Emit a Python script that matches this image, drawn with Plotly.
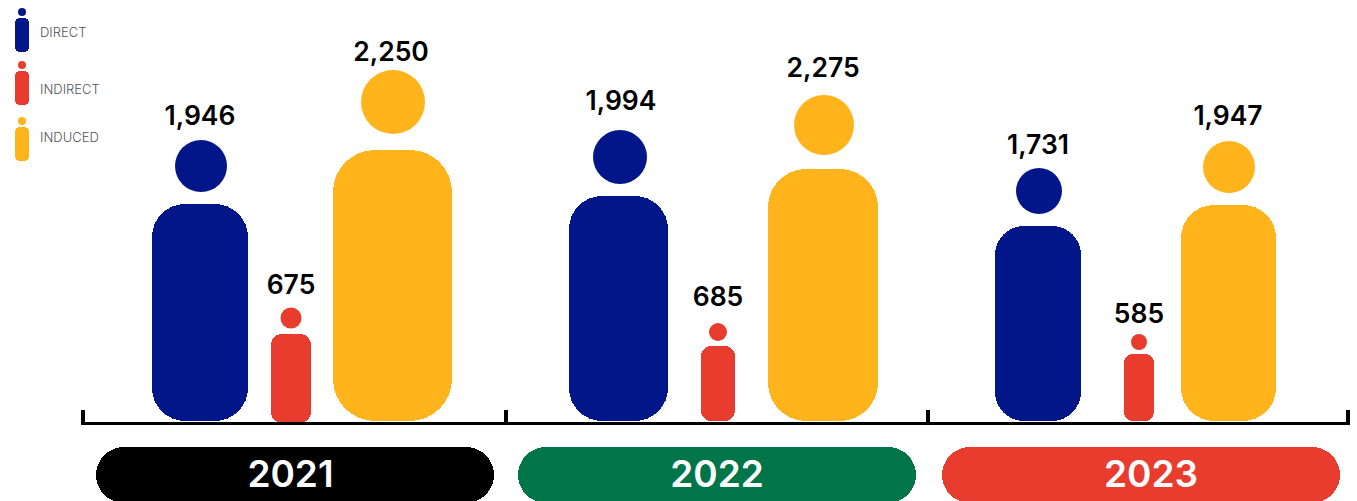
import plotly.graph_objects as go

# ---- data ----
years = ["2021", "2022", "2023"]
series = ["DIRECT", "INDIRECT", "INDUCED"]
direct_values = [1946, 1994, 1731]
indirect_values = [675, 685, 585]
induced_values = [2250, 2275, 1947]
# icon body heights as drawn in the picture (they are not strictly proportional)
direct_body = [217, 225, 195]
indirect_body = [89, 75, 67]
induced_body = [271, 252, 216]

# ---- layout constants ----
W, H = 1357, 501
BASE_PX = 421
COLORS = {"DIRECT": "#001689", "INDIRECT": "#E73C2E", "INDUCED": "#FFB41C"}
YEAR_COLORS = ["#000000", "#00754A", "#E73C2E"]
FONT = "Inter, 'Open Sans', sans-serif"

# per-icon geometry: x centre, width, corner radius, head centre offset, head radius, label offset
ICONS = {
    "DIRECT": dict(
        cx=[200, 618.5, 1038], w=[96, 99, 86], r=[33, 33, 29],
        head_cx=[201, 620, 1039], head_up=[255, 264, 230], head_r=[26, 27, 23],
        label_cx=[200, 621, 1038], label_up=[303, 318, 274]),
    "INDIRECT": dict(
        cx=[291, 718, 1139], w=[40, 34, 30], r=[11, 10, 9],
        head_cx=[291, 718, 1139], head_up=[103, 89, 79], head_r=[10.5, 9, 8],
        label_cx=[291, 718, 1139], label_up=[134, 122, 105]),
    "INDUCED": dict(
        cx=[392.5, 823, 1228.5], w=[119, 110, 95], r=[42, 38, 33],
        head_cx=[393, 824, 1229], head_up=[319, 296, 254], head_r=[32, 30, 26],
        label_cx=[391, 823, 1228], label_up=[367, 351, 303]),
}
VALUES = {"DIRECT": direct_values, "INDIRECT": indirect_values, "INDUCED": induced_values}
BODIES = {"DIRECT": direct_body, "INDIRECT": indirect_body, "INDUCED": induced_body}
INDIRECT_DROP = 2

LEGEND_BODY = {"DIRECT": (18, 52), "INDIRECT": (71, 105), "INDUCED": (127, 161)}
LEGEND_HEAD = {"DIRECT": 12, "INDIRECT": 65, "INDUCED": 121}
LEGEND_TEXT = {"DIRECT": 33, "INDIRECT": 90, "INDUCED": 138}

PILLS = [(96, 494), (518, 916), (942, 1340)]
PILL_TOP, PILL_BOTTOM = 447, 503
YEAR_LABEL_X = [290.5, 717, 1151]
YEAR_LABEL_PX = 478
TICKS = [83, 506, 928, 1348]
AXIS_X0, AXIS_X1 = 81, 1350

fig = go.Figure()


def y_of(px):
    return BASE_PX - px


def rounded_bar(cx, width, y0, y1, radius, color):
    fig.add_trace(go.Bar(
        x=[cx], y=[y1 - y0], base=[y0], width=[width],
        marker=dict(color=color, line_width=0, cornerradius=radius),
        showlegend=False, hoverinfo="skip"))


def circle(cx, cy, r, color):
    fig.add_trace(go.Scatter(
        x=[cx], y=[cy], mode="markers",
        marker=dict(size=2 * r, color=color, line_width=0),
        showlegend=False, hoverinfo="skip"))


def label(x, y, text, size, color, family=FONT, weight=600, pos="middle center"):
    fig.add_trace(go.Scatter(
        x=[x], y=[y], mode="text", text=[text], textposition=pos,
        textfont=dict(size=size, color=color, family=family, weight=weight),
        showlegend=False, hoverinfo="skip"))


# baseline axis carrier
fig.add_trace(go.Scatter(x=TICKS, y=[0, 0, 0, 0], xaxis="x2", mode="lines",
                         line_width=0, showlegend=False, hoverinfo="skip"))

# icons
for name in series:
    g = ICONS[name]
    color = COLORS[name]
    for i in range(3):
        drop = INDIRECT_DROP if name == "INDIRECT" and i == 0 else 0
        rounded_bar(g["cx"][i], g["w"][i], -drop, BODIES[name][i] - drop, g["r"][i], color)
        circle(g["head_cx"][i], g["head_up"][i], g["head_r"][i], color)
        label(g["label_cx"][i], g["label_up"][i], f"{VALUES[name][i]:,}", 26.5, "#000000")

# legend
for name in series:
    top, bottom = LEGEND_BODY[name]
    rounded_bar(22, 14, y_of(bottom), y_of(top), 5, COLORS[name])
    circle(22, y_of(LEGEND_HEAD[name]), 4, COLORS[name])
    label(40, y_of(LEGEND_TEXT[name] + 0.5), name, 13, "#555555", family=FONT, weight=300,
          pos="middle right")

# year pills
for i, year in enumerate(years):
    x0, x1 = PILLS[i]
    yc = y_of((PILL_TOP + PILL_BOTTOM) / 2)
    fig.add_trace(go.Bar(
        orientation="h", y=[yc], x=[x1 - x0], base=[x0], width=[PILL_BOTTOM - PILL_TOP],
        marker=dict(color=YEAR_COLORS[i], line_width=0, cornerradius=28),
        showlegend=False, hoverinfo="skip"))
    label(YEAR_LABEL_X[i], y_of(YEAR_LABEL_PX), year, 37, "#FFFFFF")

fig.update_layout(
    width=W, height=H, autosize=False,
    margin=dict(l=0, r=0, t=0, b=0),
    paper_bgcolor="#FFFFFF", plot_bgcolor="rgba(0,0,0,0)",
    barmode="overlay", showlegend=False, bargap=0,
    xaxis=dict(range=[0, W], domain=[0, 1], visible=False),
    xaxis2=dict(
        range=[AXIS_X0, AXIS_X1], domain=[AXIS_X0 / W, AXIS_X1 / W],
        showgrid=False, zeroline=False, showticklabels=False,
        tickmode="array", tickvals=TICKS, ticks="inside", ticklen=12, tickwidth=4,
        tickcolor="#000000", showline=True, linecolor="#000000", linewidth=3,
        anchor="free", position=(H - BASE_PX - 1.5) / H),
    yaxis=dict(range=[BASE_PX - H, BASE_PX], domain=[0, 1], visible=False),
)
fig.write_html("out.html", config={"displayModeBar": False},
               post_script="document.body.style.margin='0';")
